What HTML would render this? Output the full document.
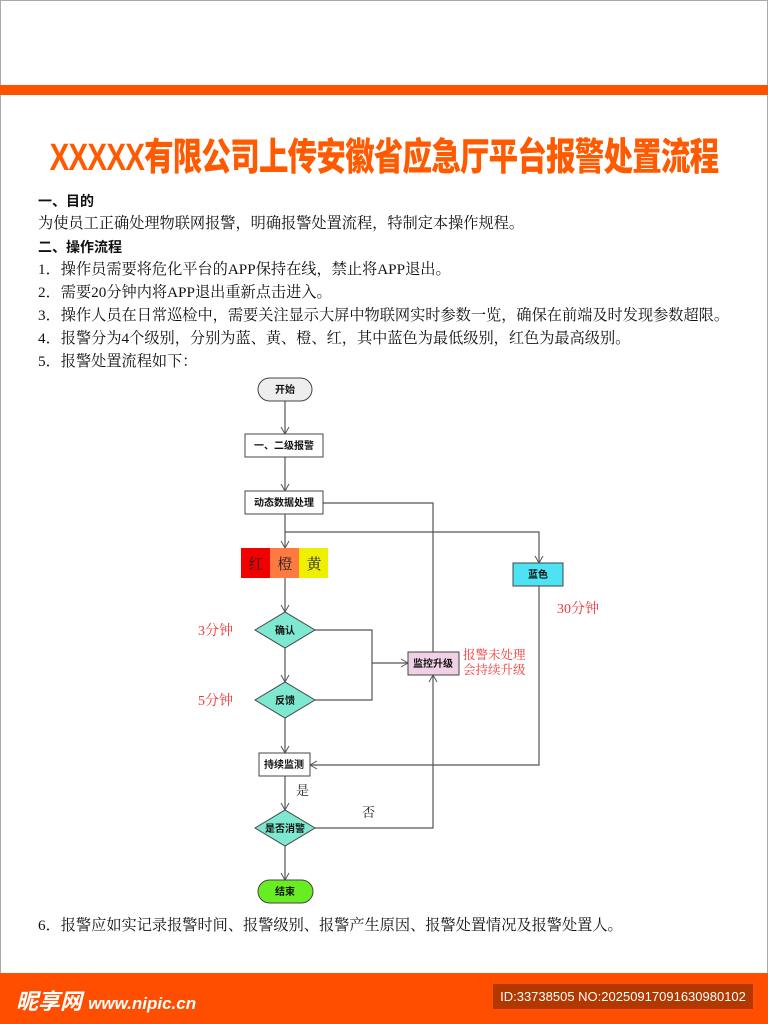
<!DOCTYPE html>
<html><head><meta charset="utf-8">
<style>
html,body{margin:0;padding:0;}
body{width:768px;height:1024px;position:relative;background:#fff;overflow:hidden;font-family:"Liberation Serif","Noto Serif CJK SC",serif;color:#111;}
.frame{position:absolute;left:0;top:0;width:766px;height:1022px;border:1px solid #aaa;}
.bar{position:absolute;left:0;top:85px;width:768px;height:10px;background:#ff5200;}
.title{position:absolute;left:384px;top:126px;font-family:"Liberation Sans","Noto Sans CJK SC",sans-serif;font-weight:900;font-size:38px;color:#ff5a00;letter-spacing:-1px;white-space:nowrap;transform:translateX(-50%) scaleX(0.776);transform-origin:center;}
.t{position:absolute;left:38px;font-size:15.2px;white-space:nowrap;line-height:18px;}
.h{font-family:"Liberation Sans","Noto Sans CJK SC",sans-serif;font-weight:bold;font-size:14px;}
.foot{position:absolute;left:0;top:973px;width:768px;height:51px;background:#ff4e00;}
.logo{position:absolute;left:16px;top:11px;color:#fff;font-family:"Liberation Sans","Noto Sans CJK SC",sans-serif;font-weight:bold;font-style:italic;font-size:22px;white-space:nowrap;}
.id{position:absolute;left:493px;top:11px;width:260px;height:25px;background:#b23800;color:#fff;font-family:"Liberation Sans",sans-serif;font-size:13px;line-height:25px;text-align:center;white-space:nowrap;}
svg{position:absolute;left:0;top:0;}
</style></head><body>
<div class="frame"></div>
<div class="bar"></div>
<div class="title">XXXXX有限公司上传安徽省应急厅平台报警处置流程</div>
<div class="t h" style="top:192px">一、目的</div>
<div class="t" style="top:215px">为使员工正确处理物联网报警，明确报警处置流程，特制定本操作规程。</div>
<div class="t h" style="top:238px">二、操作流程</div>
<div class="t" style="top:261px">1．操作员需要将危化平台的APP保持在线，禁止将APP退出。</div>
<div class="t" style="top:284px">2．需要20分钟内将APP退出重新点击进入。</div>
<div class="t" style="top:307px">3．操作人员在日常巡检中，需要关注显示大屏中物联网实时参数一览，确保在前端及时发现参数超限。</div>
<div class="t" style="top:330px">4．报警分为4个级别，分别为蓝、黄、橙、红，其中蓝色为最低级别，红色为最高级别。</div>
<div class="t" style="top:353px">5．报警处置流程如下：</div>
<div class="t" style="top:917px">6．报警应如实记录报警时间、报警级别、报警产生原因、报警处置情况及报警处置人。</div>

<svg width="768" height="1024" viewBox="0 0 768 1024">
<defs><marker id="a" markerWidth="10" markerHeight="10" refX="8" refY="5" orient="auto" markerUnits="userSpaceOnUse"><path d="M1,1 L8,5 L1,9" fill="none" stroke="#555" stroke-width="1"/></marker></defs>
<g stroke="#555" stroke-width="1.2" fill="none">
<line x1="285" y1="401" x2="285" y2="434" marker-end="url(#a)"/>
<line x1="285" y1="457" x2="285" y2="491" marker-end="url(#a)"/>
<line x1="285" y1="514" x2="285" y2="548" marker-end="url(#a)"/>
<polyline points="285,532 539,532 539,563" marker-end="url(#a)"/>
<polyline points="323,503 433,503 433,652"/>
<line x1="285" y1="578" x2="285" y2="612" marker-end="url(#a)"/>
<line x1="285" y1="648" x2="285" y2="682" marker-end="url(#a)"/>
<polyline points="315,630 372,630 372,700 315,700"/>
<line x1="372" y1="663" x2="408" y2="663" marker-end="url(#a)"/>
<line x1="285" y1="718" x2="285" y2="753" marker-end="url(#a)"/>
<polyline points="539,586 539,765 310,765" marker-end="url(#a)"/>
<line x1="285" y1="776" x2="285" y2="810" marker-end="url(#a)"/>
<polyline points="315,828 433,828 433,675" marker-end="url(#a)"/>
<line x1="285" y1="846" x2="285" y2="880" marker-end="url(#a)"/>
</g>
<g stroke="#444" stroke-width="1">
<rect x="258" y="378" width="54" height="23" rx="11.5" fill="#eee"/>
<rect x="245" y="434" width="78" height="23" fill="#fff"/>
<rect x="245" y="491" width="78" height="23" fill="#fff"/>
<rect x="513" y="563" width="50" height="23" fill="#4de3f5"/>
<polygon points="255,630 285,612 315,630 285,648" fill="#7fe8d0"/>
<polygon points="255,700 285,682 315,700 285,718" fill="#7fe8d0"/>
<rect x="408" y="652" width="51" height="23" fill="#f0d0e4"/>
<rect x="259" y="753" width="51" height="23" fill="#fff"/>
<polygon points="255,828 285,810 315,828 285,846" fill="#7fe8d0"/>
<rect x="258" y="880" width="55" height="23" rx="11.5" fill="#66ee22"/>
</g>
<rect x="241" y="548" width="29" height="30" fill="#f20000"/>
<rect x="270" y="548" width="29" height="30" fill="#ff7a40"/>
<rect x="299" y="548" width="29" height="30" fill="#eef000"/>
<g font-family="Liberation Sans,Noto Sans CJK SC,sans-serif" font-size="10" font-weight="bold" text-anchor="middle" fill="#111">
<text x="285" y="393">开始</text>
<text x="284" y="449">一、二级报警</text>
<text x="284" y="506">动态数据处理</text>
<text x="538" y="578">蓝色</text>
<text x="285" y="634">确认</text>
<text x="285" y="704">反馈</text>
<text x="433" y="667">监控升级</text>
<text x="284" y="768">持续监测</text>
<text x="285" y="832">是否消警</text>
<text x="285" y="895">结束</text>
</g>
<g font-family="Liberation Serif,Noto Serif CJK SC,serif" font-size="15" text-anchor="middle" fill="#222">
<text x="256" y="569">红</text><text x="285" y="569">橙</text><text x="314" y="569">黄</text>
</g>
<g font-family="Liberation Serif,Noto Serif CJK SC,serif" font-size="13" fill="#222">
<text x="296" y="795">是</text><text x="362" y="817">否</text>
</g>
<g font-family="Liberation Serif,Noto Serif CJK SC,serif" font-size="14" fill="#f03838">
<text x="557" y="613">30分钟</text>
<text x="198" y="635">3分钟</text>
<text x="198" y="705">5分钟</text>
<text x="463" y="659" font-size="12.5">报警未处理</text>
<text x="463" y="674" font-size="12.5">会持续升级</text>
</g>
</svg>

<div class="foot">
<div class="logo">昵享网 <span style="font-size:17px">www.nipic.cn</span></div>
<div class="id">ID:33738505 NO:20250917091630980102</div>
</div>
</body></html>
